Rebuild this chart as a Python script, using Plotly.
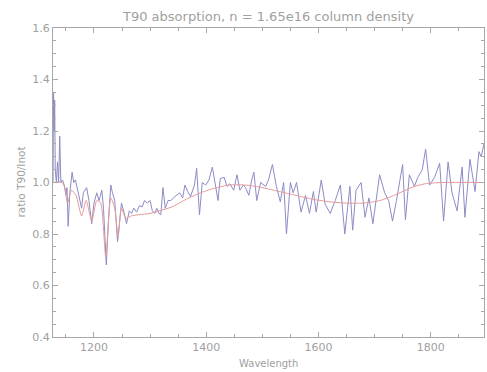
import plotly.graph_objects as go

# Observed ratio (blue)
wl_obs = [1127, 1128, 1129, 1130, 1131, 1133, 1135, 1137, 1139, 1141, 1144, 1147, 1150, 1152, 1154,
          1157, 1161, 1164, 1167, 1170, 1174, 1178, 1181, 1184, 1187, 1191, 1196, 1200, 1205, 1209,
          1214, 1217, 1222, 1226, 1230, 1233, 1237, 1242, 1246, 1249, 1254, 1258, 1263, 1267, 1271,
          1276, 1281, 1286, 1290, 1295, 1300, 1304, 1308, 1312, 1316, 1319, 1323, 1327, 1332, 1337,
          1344, 1353, 1358, 1362, 1367, 1372, 1379, 1383, 1388, 1393, 1399, 1405, 1411, 1416, 1421,
          1425, 1432, 1437, 1442, 1449, 1455, 1460, 1466, 1470, 1476, 1481, 1485, 1490, 1497, 1506,
          1511, 1518, 1525, 1532, 1538, 1543, 1550, 1555, 1561, 1569, 1577, 1584, 1591, 1596, 1605,
          1612, 1621, 1630, 1639, 1647, 1656, 1661, 1667, 1676, 1683, 1690, 1697, 1709, 1718, 1725,
          1732, 1739, 1750, 1755, 1762, 1771, 1777, 1785, 1791, 1798, 1807, 1816, 1823, 1831, 1838,
          1847, 1856, 1861, 1870, 1879, 1886, 1890, 1895]
ratio_obs = [1.00, 1.35, 1.20, 1.32, 1.05, 1.00, 1.08, 1.00, 1.18, 1.00, 1.01, 0.99, 0.95, 0.98, 0.83,
             0.96, 1.04, 1.00, 1.01, 0.98, 0.94, 0.90, 0.96, 0.97, 0.98, 0.93, 0.84, 0.92, 0.96, 0.93,
             0.97, 0.90, 0.68, 0.86, 0.99, 0.96, 0.93, 0.77, 0.87, 0.92, 0.88, 0.84, 0.89, 0.88, 0.90,
             0.885, 0.91, 0.905, 0.93, 0.92, 0.93, 0.89, 0.88, 0.90, 0.88, 0.875, 0.98, 0.90, 0.93, 0.93,
             0.945, 0.96, 0.94, 0.99, 0.965, 0.945, 0.99, 1.055, 0.875, 1.00, 0.99, 1.01, 1.06, 0.985, 0.93,
             1.015, 1.02, 0.985, 0.995, 0.97, 1.03, 0.97, 0.99, 0.98, 0.95, 1.01, 1.04, 0.93, 1.00, 0.985,
             1.01, 1.07, 0.985, 0.925, 1.00, 0.80, 1.00, 0.96, 1.00, 0.885, 0.95, 0.88, 0.965, 0.885, 1.01,
             0.915, 0.88, 0.93, 0.99, 0.80, 0.985, 0.815, 0.97, 1.00, 0.865, 0.94, 0.84, 1.03, 0.96, 0.93,
             0.85, 0.93, 1.07, 0.855, 1.03, 0.985, 1.02, 1.05, 1.13, 0.99, 1.02, 1.075, 0.85, 1.08, 0.96,
             0.89, 1.06, 0.865, 1.09, 0.965, 1.12, 1.10, 1.15]

# Model ratio (red)
wl_mod = [1127, 1143, 1148, 1153, 1160, 1168, 1178, 1186, 1196, 1205, 1212, 1221, 1230, 1237, 1243,
          1249, 1257, 1266, 1280, 1300, 1316, 1339, 1360, 1384, 1410, 1440, 1470, 1500, 1530, 1560,
          1590, 1620, 1650, 1680, 1710, 1740, 1765, 1790, 1820, 1895]
ratio_mod = [1.0, 1.0, 0.98, 0.92, 0.97, 0.95, 0.87, 0.93, 0.85, 0.93, 0.92, 0.71, 0.94, 0.90, 0.79,
             0.90, 0.86, 0.87, 0.875, 0.88, 0.89, 0.905, 0.93, 0.955, 0.975, 0.99, 0.99, 0.98, 0.965, 0.95,
             0.935, 0.925, 0.92, 0.92, 0.93, 0.955, 0.98, 0.995, 1.0, 1.0]

x_ticks = [1200, 1400, 1600, 1800]
y_ticks = [0.4, 0.6, 0.8, 1.0, 1.2, 1.4, 1.6]

W, H = 487, 372
L, R, T, B = 53, 3, 28, 35

fig = go.Figure()
fig.add_trace(go.Scatter(x=wl_obs, y=ratio_obs, mode="lines",
                         line=dict(color="#8c8cc6", width=1), showlegend=False))
fig.add_trace(go.Scatter(x=wl_mod, y=ratio_mod, mode="lines",
                         line=dict(color="#e89a9a", width=1, shape="spline", smoothing=0.6),
                         showlegend=False))

grey = "#a8a8a8"
txt = "#a0a0a0"
fnt = dict(family="DejaVu Sans", size=11, color=txt)

fig.update_layout(
    width=W, height=H,
    margin=dict(l=L, r=R, t=T, b=B, autoexpand=False),
    paper_bgcolor="white", plot_bgcolor="white",
    font=fnt,
    title=dict(text="T90 absorption, n = 1.65e16 column density",
               x=(L + W - R) / 2 / W, xanchor="center",
               y=1 - 16 / H, yanchor="middle",
               font=dict(family="DejaVu Sans", size=13, color=txt)),
    annotations=[
        dict(text="Wavelength", xref="paper", yref="paper",
             x=0.5, y=-(363 - (H - B)) / (H - T - B), xanchor="center", yanchor="middle",
             showarrow=False, font=dict(family="DejaVu Sans", size=10, color=txt)),
        dict(text="ratio T90/Inot", xref="paper", yref="paper", textangle=-90,
             x=-(L - 20) / (W - L - R), y=0.5, xanchor="center", yanchor="middle",
             showarrow=False, font=dict(family="DejaVu Sans", size=10.5, color=txt)),
    ],
)
fig.update_xaxes(range=[1127, 1895], tickvals=x_ticks, ticktext=[str(v) for v in x_ticks],
                 automargin=False,
                 showgrid=False, zeroline=False, showline=True, linecolor=grey, linewidth=1,
                 mirror="allticks", ticks="inside", ticklen=5, tickcolor=grey,
                 minor=dict(ticks="inside", dtick=50, tick0=1200, ticklen=3, tickcolor=grey),
                 tickfont=fnt)
fig.update_yaxes(range=[0.4, 1.6], tickvals=y_ticks, ticktext=[f"{v:.1f}" for v in y_ticks],
                 automargin=False,
                 showgrid=False, zeroline=False, showline=True, linecolor=grey, linewidth=1,
                 mirror="allticks", ticks="inside", ticklen=5, tickcolor=grey,
                 minor=dict(ticks="inside", dtick=0.05, tick0=0.4, ticklen=3, tickcolor=grey),
                 tickfont=fnt)

fig.write_html("out.html", config={"displayModeBar": False},
               post_script="document.body.style.margin='0';document.body.style.overflow='hidden';")
